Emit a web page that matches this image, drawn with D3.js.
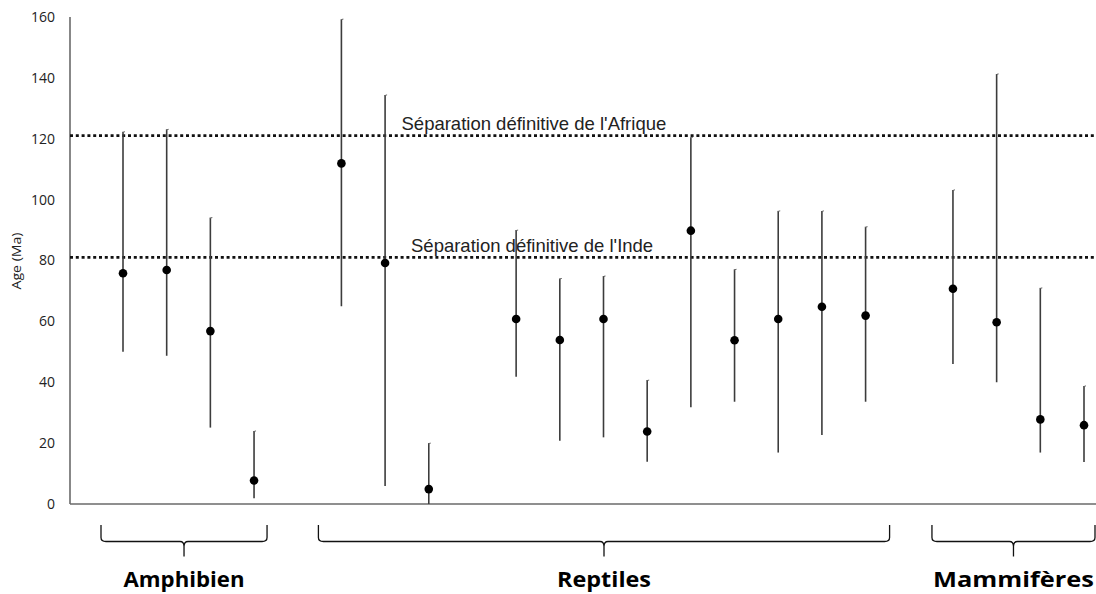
<!DOCTYPE html>
<html>
<head>
<meta charset="utf-8">
<script src="https://cdn.jsdelivr.net/npm/d3@7"></script>
<style>
  html, body { margin: 0; padding: 0; background: #fff; }
  svg { display: block; }
</style>
</head>
<body>
<svg id="chart" width="1096" height="594"></svg>
<script>
// ---- Data ----
const categories = ["A1","A2","A3","A4","gap1",
  "R1","R2","R3","gap2","R4","R5","R6","R7","R8","R9","R10","R11","R12","gap3",
  "M1","M2","M3","M4"];
const meanAge = [75.8, 76.9, 56.8, 7.7, null,
  111.9, 79.2, 4.9, null, 60.8, 53.9, 60.8, 23.8, 89.8, 53.8, 60.8, 64.8, 61.9, null,
  70.7, 59.7, 27.8, 25.9];
const lowAge = [50, 48.7, 25.1, 1.9, null,
  65, 5.9, 0, null, 41.8, 20.8, 21.9, 13.9, 31.8, 33.6, 16.9, 22.7, 33.6, null,
  46, 40, 16.9, 13.8];
const highAge = [122.3, 123.1, 94.1, 24, null,
  159.3, 134.4, 20, null, 90, 74.1, 74.9, 40.7, 120.5, 77.1, 96.3, 96.3, 91.1, null,
  103.2, 141.3, 71, 38.8];
const yTicks = [0, 20, 40, 60, 80, 100, 120, 140, 160];
const refValues = [121, 81];
const refLabels = ["Séparation définitive de l'Afrique", "Séparation définitive de l'Inde"];
const groupNames = ["Amphibien", "Reptiles", "Mammifères"];
const groupFirst = ["A1", "R1", "M1"];
const groupLast = ["A4", "R12", "M4"];
const yTitle = "Age (Ma)";

(function () {
// ---- Layout ----
const svg = d3.select("#chart");
const x = d3.scalePoint().domain(categories).range([123, 1084]);
const y = d3.scaleLinear().domain([0, 160]).range([504, 17]);

// axes lines
svg.append("line").attr("x1", 70).attr("x2", 70).attr("y1", y(160)).attr("y2", y(0))
  .attr("stroke", "#6a6a6a").attr("stroke-width", 1.6);
svg.append("line").attr("x1", 70).attr("x2", 1096).attr("y1", y(0)).attr("y2", y(0))
  .attr("stroke", "#6a6a6a").attr("stroke-width", 1.6);

// y axis ticks via d3 axis
const yAxis = d3.axisLeft(y).tickValues(yTicks).tickSize(0).tickPadding(0);
const gy = svg.append("g").attr("transform", "translate(55,0)").call(yAxis);
gy.select(".domain").remove();
gy.selectAll("text")
  .attr("font-family", "'Open Sans', sans-serif")
  .attr("font-size", 14)
  .attr("fill", "#222");

// y title
svg.append("text")
  .attr("transform", "translate(21,261) rotate(-90)")
  .attr("text-anchor", "middle")
  .attr("font-family", "'Open Sans', sans-serif")
  .attr("font-size", 12)
  .attr("fill", "#222")
  .attr("textLength", 57)
  .attr("lengthAdjust", "spacingAndGlyphs")
  .text(yTitle);

// reference dotted lines
const refTextX = [401.5, 411];
refValues.forEach((v, i) => {
  svg.append("line").attr("x1", 70).attr("x2", 1096).attr("y1", y(v)).attr("y2", y(v))
    .attr("stroke", "#111").attr("stroke-width", 2.8).attr("stroke-dasharray", "3,2.8");
  svg.append("text")
    .attr("x", refTextX[i]).attr("y", y(v) - 5.5)
    .attr("font-family", "'Liberation Sans', Arial, sans-serif")
    .attr("font-size", 18.5)
    .attr("fill", "#222")
    .text(refLabels[i]);
});

// data points
const pts = categories.map((c, i) => ({c, m: meanAge[i], lo: lowAge[i], hi: highAge[i]}))
  .filter(d => d.m !== null);

const g = svg.append("g");
g.selectAll("line.err").data(pts).join("line")
  .attr("class", "err")
  .attr("x1", d => x(d.c)).attr("x2", d => x(d.c))
  .attr("y1", d => y(d.hi)).attr("y2", d => y(d.lo))
  .attr("stroke", "#3c3c3c").attr("stroke-width", 1.6);
g.selectAll("path.cap").data(pts).join("path")
  .attr("class", "cap")
  .attr("d", d => `M${x(d.c)},${y(d.hi) + 1} Q${x(d.c)},${y(d.hi)} ${x(d.c) + 2},${y(d.hi)}`)
  .attr("fill", "none").attr("stroke", "#666").attr("stroke-width", 1);
g.selectAll("circle").data(pts).join("circle")
  .attr("cx", d => x(d.c)).attr("cy", d => y(d.m)).attr("r", 4.3)
  .attr("fill", "#000");

// braces + group labels
const leftPad = [-22, -23, -21];
const rightPad = [13, 24, 11];
const labelWidth = [121, 94, 161];
const bTop = 525, by = 541.5, tipBottom = 556.5;
groupNames.forEach((name, i) => {
  const l = x(groupFirst[i]) + leftPad[i];
  const r = x(groupLast[i]) + rightPad[i];
  const t = (l + r) / 2;
  const p = `M${l},${bTop} L${l},${by - 4} Q${l},${by} ${l + 5},${by} L${t - 4},${by} Q${t},${by} ${t},${by + 5} L${t},${tipBottom}` +
            ` M${t},${by + 5} Q${t},${by} ${t + 4},${by} L${r - 5},${by} Q${r},${by} ${r},${by - 4} L${r},${bTop}`;
  svg.append("path").attr("d", p).attr("fill", "none").attr("stroke", "#111").attr("stroke-width", 1.3);
  svg.append("text")
    .attr("x", t).attr("y", 587)
    .attr("text-anchor", "middle")
    .attr("font-family", "'Open Sans', sans-serif")
    .attr("font-weight", "bold")
    .attr("font-size", 21)
    .attr("fill", "#000")
    .attr("textLength", labelWidth[i])
    .attr("lengthAdjust", "spacingAndGlyphs")
    .text(name);
});
})();
</script>
</body>
</html>
